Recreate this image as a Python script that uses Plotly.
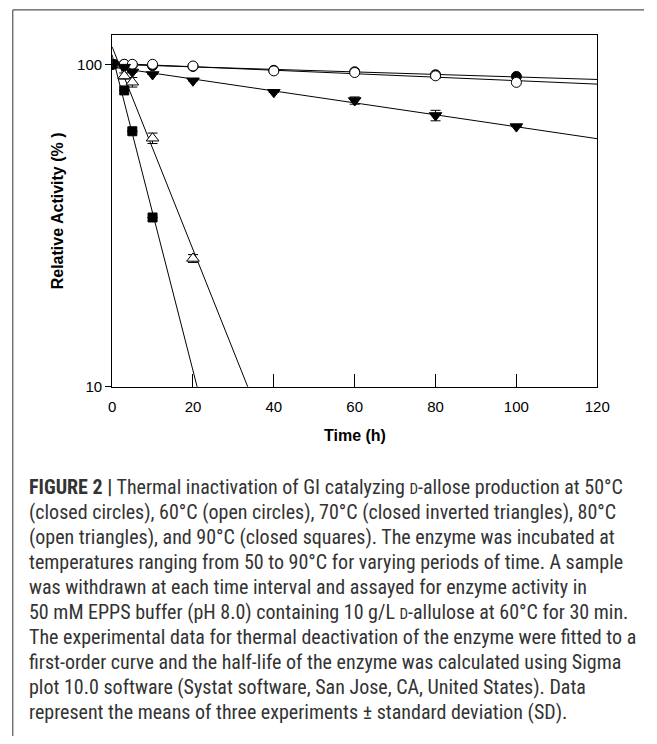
import numpy as np
import plotly.graph_objects as go

# ---------------- data ----------------
time_50 = [0, 3, 5, 10, 20, 40, 60, 80, 100]
act_50 = [100, 100, 99.5, 99, 98.5, 95.8, 94.8, 92.8, 91.7]
err_50 = [0, 0, 0, 0, 0, 0, 0, 0, 0]

time_60 = [0, 3, 5, 10, 20, 40, 60, 80, 100]
act_60 = [100, 100, 100, 100, 98.8, 95.4, 94.3, 92.1, 87.9]
err_60 = [0, 0, 0, 0, 0, 0.8, 0.8, 1.6, 0.8]

time_70 = [0, 3, 5, 10, 20, 40, 60, 80, 100]
act_70 = [100, 98, 94.7, 93, 88.9, 81.9, 77.2, 69.4, 64.1]
err_70 = [0, 0, 0, 0, 0, 0, 2.0, 2.6, 0]

time_80 = [0, 3, 5, 10, 20]
act_80 = [100, 92, 88, 59, 25]
err_80 = [0, 2.0, 3.0, 2.2, 0.7]

time_90 = [0, 3, 5, 10]
act_90 = [100, 83, 62, 33.5]
err_90 = [0, 0, 0, 0]

x_ticks = [0, 20, 40, 60, 80, 100, 120]
y_ticks = [10, 100]
y_ticktext = ["10", "100"]

SC = "<span style=\"font-size:15px\">D</span>"
caption_lines = [
    "<b>FIGURE 2 |</b> Thermal inactivation of GI catalyzing " + SC + "-allose production at 50°C",
    "(closed circles), 60°C (open circles), 70°C (closed inverted triangles), 80°C",
    "(open triangles), and 90°C (closed squares). The enzyme was incubated at",
    "temperatures ranging from 50 to 90°C for varying periods of time. A sample",
    "was withdrawn at each time interval and assayed for enzyme activity in",
    "50 mM EPPS buffer (pH 8.0) containing 10 g/L " + SC + "-allulose at 60°C for 30 min.",
    "The experimental data for thermal deactivation of the enzyme were fitted to a",
    "first-order curve and the half-life of the enzyme was calculated using Sigma",
    "plot 10.0 software (Systat software, San Jose, CA, United States). Data",
    "represent the means of three experiments ± standard deviation (SD).",
]

# ---------------- figure ----------------
W, H = 657, 744


def px(x):
    return x / W


def py(y):
    return 1 - y / H


series = [
    (time_50, act_50, err_50, "circle", "black", 10),
    (time_60, act_60, err_60, "circle", "white", 10),
    (time_70, act_70, err_70, "triangle-down", "black", 11),
    (time_80, act_80, err_80, "triangle-up", "white", 11),
    (time_90, act_90, err_90, "square", "black", 9),
]

fig = go.Figure()

# first-order fit lines (straight lines on the log axis)
t_line = np.array([0.0, 120.0])
for t, v, e, sym, fill, size in series:
    slope, icpt = np.polyfit(np.array(t, float), np.log10(np.array(v, float)), 1)
    fig.add_trace(go.Scatter(
        x=t_line, y=10 ** (icpt + slope * t_line), mode="lines",
        line=dict(color="black", width=1), hoverinfo="skip", showlegend=False,
    ))

for t, v, e, sym, fill, size in series:
    fig.add_trace(go.Scatter(
        x=t, y=v, mode="markers",
        marker=dict(symbol=sym, size=size, color=fill,
                    line=dict(color="black", width=1)),
        error_y=dict(type="data", array=e, visible=True, color="black",
                     thickness=1, width=5),
        showlegend=False,
    ))

fig.update_layout(
    width=W, height=H,
    margin=dict(l=0, r=0, t=0, b=0),
    paper_bgcolor="white", plot_bgcolor="white",
    font=dict(family="Liberation Sans, Arial, sans-serif", size=15, color="black"),
    xaxis=dict(
        domain=[px(111), px(609)], range=[0, 120],
        tickvals=x_ticks, ticks="inside", ticklen=13, tickwidth=1, tickcolor="black",
        showline=True, linecolor="black", linewidth=1, mirror=True,
        showgrid=False, zeroline=False,
        tickfont=dict(size=15), ticklabelstandoff=6,
    ),
    yaxis=dict(
        domain=[py(391), py(35)], type="log", range=[1, np.log10(123.6)],
        tickvals=y_ticks, ticktext=y_ticktext, ticks="outside", ticklen=6,
        tickwidth=1, tickcolor="black",
        showline=True, linecolor="black", linewidth=1, mirror=True,
        showgrid=False, zeroline=False, tickfont=dict(size=15),
    ),
)

annotations = [
    dict(text="<b>Time (h)</b>", x=px(360), y=py(440), xref="paper", yref="paper",
         showarrow=False, xanchor="center", yanchor="middle",
         font=dict(size=16, family="Liberation Sans, Arial, sans-serif")),
    dict(text="<b>Relative Activity (% )</b>", x=px(55), y=py(213), xref="paper",
         yref="paper", showarrow=False, textangle=-90, xanchor="center",
         yanchor="middle",
         font=dict(size=16, family="Liberation Sans, Arial, sans-serif")),
]
for i, line in enumerate(caption_lines):
    annotations.append(dict(
        text=line, x=px(24), y=py(492 + i * 25.3), xref="paper", yref="paper",
        showarrow=False, xanchor="left", yanchor="middle",
        font=dict(size=20, color="#333333",
                  family="Liberation Sans Narrow, Roboto Condensed, Roboto, sans-serif"),
    ))
fig.update_layout(annotations=annotations)

# outer figure frame (left and top edges visible)
fig.add_shape(type="line", xref="paper", yref="paper", x0=px(9), x1=px(9),
              y0=0, y1=py(10), line=dict(color="#555555", width=1.2))
fig.add_shape(type="line", xref="paper", yref="paper", x0=px(9), x1=1,
              y0=py(10), y1=py(10), line=dict(color="#555555", width=1.2))

fig.write_html("out.html")
